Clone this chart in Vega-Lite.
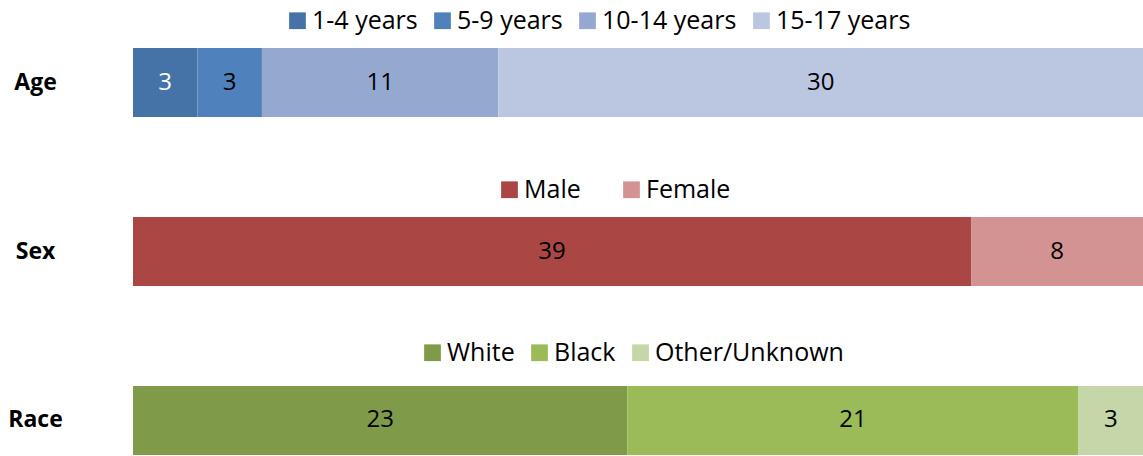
{
  "$schema": "https://vega.github.io/schema/vega-lite/v6.json",
  "autosize": {"type": "none"},
  "padding": {"left": 133, "top": 48, "right": 0, "bottom": 1},
  "width": 1010,
  "height": 407,
  "background": "white",
  "config": {
    "view": {"stroke": null},
    "font": "Open Sans",
    "legend": {
      "orient": "none",
      "direction": "horizontal",
      "title": null,
      "symbolType": "square",
      "symbolSize": 280,
      "symbolStrokeWidth": 0,
      "labelFont": "Open Sans",
      "labelFontSize": 25,
      "labelColor": "black",
      "labelOffset": 2,
      "labelLimit": 400,
      "columnPadding": 12,
      "symbolOpacity": 1
    }
  },
  "data": {
    "values": [
      {"group": "Age", "cat": "1-4 years", "n": 3, "order": 1},
      {"group": "Age", "cat": "5-9 years", "n": 3, "order": 2},
      {"group": "Age", "cat": "10-14 years", "n": 11, "order": 3},
      {"group": "Age", "cat": "15-17 years", "n": 30, "order": 4},
      {"group": "Sex", "cat": "Male", "n": 39, "order": 1},
      {"group": "Sex", "cat": "Female", "n": 8, "order": 2},
      {"group": "Race", "cat": "White", "n": 23, "order": 1},
      {"group": "Race", "cat": "Black", "n": 21, "order": 2},
      {"group": "Race", "cat": "Other/Unknown", "n": 3, "order": 3}
    ]
  },
  "transform": [
    {"stack": "n", "groupby": ["group"], "sort": [{"field": "order", "order": "ascending"}], "as": ["s0", "s1"]}
  ],
  "encoding": {
    "y": {
      "field": "group",
      "type": "nominal",
      "sort": ["Age", "Sex", "Race"],
      "scale": {"paddingInner": 0.5917, "paddingOuter": 0},
      "axis": {
        "title": null,
        "ticks": false,
        "domain": false,
        "labelFont": "Open Sans",
        "labelFontWeight": "bold",
        "labelFontSize": 23,
        "labelColor": "black",
        "labelAlign": "center",
        "labelPadding": 98
      }
    }
  },
  "layer": [
    {
      "transform": [{"filter": "datum.group === 'Age'"}],
      "mark": {"type": "bar"},
      "encoding": {
        "x": {"field": "s0", "type": "quantitative", "scale": {"domain": [0, 47], "nice": false, "zero": true}, "axis": null},
        "x2": {"field": "s1"},
        "color": {
          "field": "cat",
          "type": "nominal",
          "scale": {"domain": ["1-4 years", "5-9 years", "10-14 years", "15-17 years"], "range": ["#4572A7", "#4F81BD", "#95A9D0", "#BBC7E0"]},
          "legend": {"legendX": 152, "legendY": -40, "columnPadding": 12}
        }
      }
    },
    {
      "transform": [{"filter": "datum.group === 'Sex'"}],
      "mark": {"type": "bar"},
      "encoding": {
        "x": {"field": "s0", "type": "quantitative", "scale": {"domain": [0, 47], "nice": false, "zero": true}, "axis": null},
        "x2": {"field": "s1"},
        "color": {
          "field": "cat",
          "type": "nominal",
          "scale": {"domain": ["Male", "Female"], "range": ["#AA4644", "#D39392"]},
          "legend": {"legendX": 364, "legendY": 129, "columnPadding": 38}
        }
      }
    },
    {
      "transform": [{"filter": "datum.group === 'Race'"}],
      "mark": {"type": "bar"},
      "encoding": {
        "x": {"field": "s0", "type": "quantitative", "scale": {"domain": [0, 47], "nice": false, "zero": true}, "axis": null},
        "x2": {"field": "s1"},
        "color": {
          "field": "cat",
          "type": "nominal",
          "scale": {"domain": ["White", "Black", "Other/Unknown"], "range": ["#7F9B4A", "#9BBB59", "#C5D6A9"]},
          "legend": {"legendX": 287, "legendY": 292, "columnPadding": 12}
        }
      }
    },
    {
      "transform": [
        {"fold": ["s0", "s1"], "as": ["edge", "pos"]},
        {"aggregate": [{"op": "mean", "field": "pos", "as": "mid"}], "groupby": ["group", "cat", "n"]}
      ],
      "mark": {"type": "text", "font": "Open Sans", "fontSize": 24, "baseline": "middle", "align": "center"},
      "encoding": {
        "x": {"field": "mid", "type": "quantitative", "scale": {"domain": [0, 47], "nice": false, "zero": true}, "axis": null},
        "text": {"field": "n", "type": "quantitative"},
        "color": {
          "condition": {"test": "datum.cat === '1-4 years'", "value": "white"},
          "value": "black"
        }
      }
    }
  ],
  "resolve": {"scale": {"color": "independent"}, "legend": {"color": "independent"}}
}
